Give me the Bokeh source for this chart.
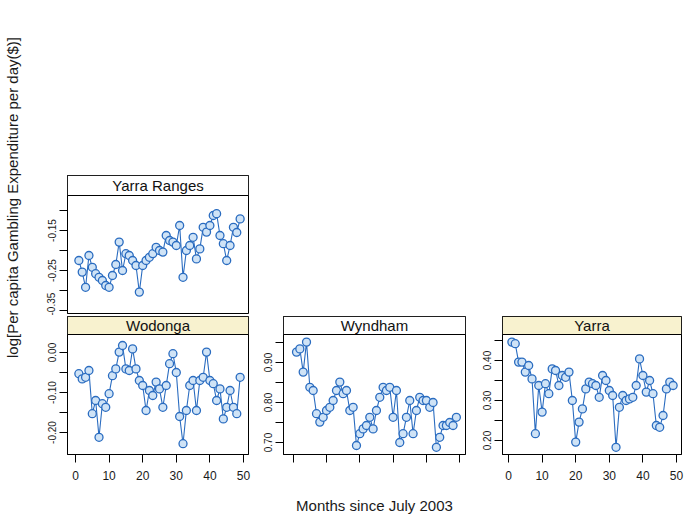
import math
from bokeh.plotting import figure
from bokeh.layouts import row, column
from bokeh.models import FixedTicker, PrintfTickFormatter, BoxAnnotation, Label, Range1d
from bokeh.embed import file_html
from bokeh.resources import INLINE

# ---------------- data ----------------
months = list(range(1, 50))

yarra_ranges = [-0.225, -0.254, -0.292, -0.2125, -0.242, -0.258, -0.267, -0.275, -0.2875, -0.292,
                -0.2625, -0.235, -0.179, -0.25, -0.208, -0.2125, -0.225, -0.2375, -0.304, -0.2375,
                -0.225, -0.217, -0.208, -0.192, -0.20, -0.204, -0.1625, -0.175, -0.179, -0.1875,
                -0.1375, -0.267, -0.20, -0.1875, -0.167, -0.221, -0.196, -0.142, -0.154, -0.1375,
                -0.1125, -0.108, -0.1625, -0.183, -0.225, -0.1875, -0.142, -0.155, -0.121]

wodonga = [-0.053, -0.066, -0.062, -0.045, -0.153, -0.12, -0.212, -0.128, -0.137, -0.103,
           -0.058, -0.041, 0.001, 0.0175, -0.041, -0.045, 0.009, -0.041, -0.07, -0.0825,
           -0.145, -0.095, -0.1075, -0.074, -0.091, -0.137, -0.0825, -0.028, -0.003, -0.05,
           -0.16, -0.228, -0.145, -0.0825, -0.07, -0.145, -0.07, -0.062, 0.001, -0.07,
           -0.078, -0.12, -0.091, -0.166, -0.137, -0.095, -0.137, -0.153, -0.062]

wyndham = [0.926, 0.934, 0.876, 0.951, 0.838, 0.83, 0.772, 0.751, 0.763, 0.78,
           0.788, 0.805, 0.83, 0.851, 0.822, 0.83, 0.78, 0.788, 0.6925, 0.722,
           0.734, 0.7425, 0.763, 0.734, 0.78, 0.813, 0.838, 0.83, 0.838, 0.763,
           0.83, 0.70, 0.722, 0.763, 0.805, 0.722, 0.78, 0.813, 0.805, 0.805,
           0.788, 0.80, 0.688, 0.713, 0.7425, 0.7425, 0.75, 0.7425, 0.763]

yarra = [0.446, 0.442, 0.396, 0.396, 0.371, 0.3875, 0.354, 0.217, 0.3375, 0.271,
         0.342, 0.317, 0.379, 0.375, 0.3375, 0.3625, 0.358, 0.371, 0.30, 0.196,
         0.246, 0.279, 0.329, 0.346, 0.342, 0.3375, 0.308, 0.3625, 0.35, 0.325,
         0.3125, 0.183, 0.283, 0.3125, 0.30, 0.304, 0.308, 0.3375, 0.404, 0.3625,
         0.321, 0.35, 0.317, 0.2375, 0.233, 0.2625, 0.329, 0.346, 0.3375]

x_ticks = [0, 10, 20, 30, 40, 50]
yr_ticks, yr_minor = [-0.35, -0.25, -0.15], [-0.30, -0.20, -0.10]
wo_ticks, wo_minor = [-0.20, -0.10, 0.00], [-0.15, -0.05]
wy_ticks, wy_minor = [0.70, 0.80, 0.90], [0.75, 0.85, 0.95]
ya_ticks, ya_minor = [0.20, 0.30, 0.40], [0.25, 0.35, 0.45]

y_title = "log[Per capita Gambling Expenditure per day($)]"
x_title = "Months since July 2003"

# ---------------- styling ----------------
FONT = "Liberation Sans"
LINE = "#2a6cc0"
FILL = "#cfe3f6"
STRIP_YELLOW = "#f8f2cf"


def panel(name, values, xr, yr, strip_bottom, majors, minors, strip_fill,
          fw, fh, bl, br, bt, bb, show_x=True, x_labels=True):
    p = figure(x_range=Range1d(*xr), y_range=Range1d(*yr),
               frame_width=fw, frame_height=fh,
               min_border_left=bl, min_border_right=br,
               min_border_top=bt, min_border_bottom=bb,
               output_backend="svg", toolbar_location=None)
    p.grid.grid_line_color = None
    p.outline_line_color = "black"
    p.outline_line_alpha = 1.0
    p.outline_line_width = 1
    p.background_fill_color = "white"
    p.border_fill_color = "white"

    # strip
    p.add_layout(BoxAnnotation(left=xr[0], right=xr[1], bottom=strip_bottom, top=yr[1],
                               fill_color=strip_fill, fill_alpha=1.0,
                               line_color="black", line_alpha=1.0, line_width=1))
    p.add_layout(Label(x=(xr[0] + xr[1]) / 2, y=(strip_bottom + yr[1]) / 2, text=name,
                       text_align="center", text_baseline="middle",
                       text_font=FONT, text_font_size="15px", text_color="#111111"))

    p.line(months, values, line_color=LINE, line_width=1.1)
    p.scatter(months, values, size=8, fill_color=FILL, line_color=LINE, line_width=1.3)

    ya = p.yaxis[0]
    ya.ticker = FixedTicker(ticks=majors, minor_ticks=minors)
    ya.formatter = PrintfTickFormatter(format="%.2f")
    ya.major_label_orientation = "vertical"
    ya.major_tick_out = 8
    ya.major_tick_in = 0
    ya.minor_tick_out = 8
    ya.minor_tick_in = 0
    ya.axis_line_color = "black"
    ya.major_tick_line_color = "black"
    ya.minor_tick_line_color = "black"
    ya.major_label_text_font = FONT
    ya.major_label_text_font_size = "10px"
    ya.major_label_text_color = "#1a1a1a"
    ya.major_label_standoff = 4

    xa = p.xaxis[0]
    if show_x:
        xa.ticker = FixedTicker(ticks=x_ticks, minor_ticks=[])
        xa.major_tick_out = 8
        xa.major_tick_in = 0
        xa.axis_line_color = "black"
        xa.major_tick_line_color = "black"
        xa.major_label_text_font = FONT
        xa.major_label_text_font_size = "12px"
        xa.major_label_text_color = "#1a1a1a"
        xa.major_label_standoff = 8
        if not x_labels:
            xa.major_label_overrides = {t: "" for t in x_ticks}
    else:
        xa.visible = False
    return p


# Yarra Ranges (top-left)
pA = panel("Yarra Ranges", yarra_ranges, (-2.38, 51.49), (-0.3575, -0.0125), -0.0625,
           yr_ticks, yr_minor, "white", 181, 138, 39, 4, 175, 2, show_x=False)
# Wodonga
pB = panel("Wodonga", wodonga, (-2.38, 51.49), (-0.255, 0.09), 0.045,
           wo_ticks, wo_minor, STRIP_YELLOW, 181, 138, 39, 11, 1, 66)
# Wyndham
pC = panel("Wyndham", wyndham, (-2.91, 51.74), (0.67, 1.015), 0.97,
           wy_ticks, wy_minor, "white", 182, 138, 24, 13, 1, 66, x_labels=False)
pC.xaxis[0].axis_label = x_title
pC.xaxis[0].axis_label_text_font = FONT
pC.xaxis[0].axis_label_text_font_size = "15px"
pC.xaxis[0].axis_label_text_font_style = "normal"
pC.xaxis[0].axis_label_text_color = "#1a1a1a"
pC.xaxis[0].axis_label_standoff = 34
# Yarra
pD = panel("Yarra", yarra, (-1.79, 51.49), (0.165, 0.51), 0.465,
           ya_ticks, ya_minor, STRIP_YELLOW, 179, 138, 24, 4, 1, 66)

# left column holding the shared y-axis title
pL = figure(x_range=Range1d(0, 28), y_range=Range1d(0, 520),
            frame_width=28, frame_height=520,
            min_border_left=0, min_border_right=0, min_border_top=0, min_border_bottom=0,
            x_axis_type=None, y_axis_type=None,
            output_backend="svg", toolbar_location=None)
pL.grid.grid_line_color = None
pL.outline_line_color = None
pL.add_layout(Label(x=12, y=323, text=y_title, angle=math.pi / 2,
                    text_align="center", text_baseline="middle",
                    text_font=FONT, text_font_size="15px", text_color="#1a1a1a"))

layout = row(pL, column(pA, row(pB, pC, pD)))

open("out.html", "w").write(file_html(layout, INLINE))
